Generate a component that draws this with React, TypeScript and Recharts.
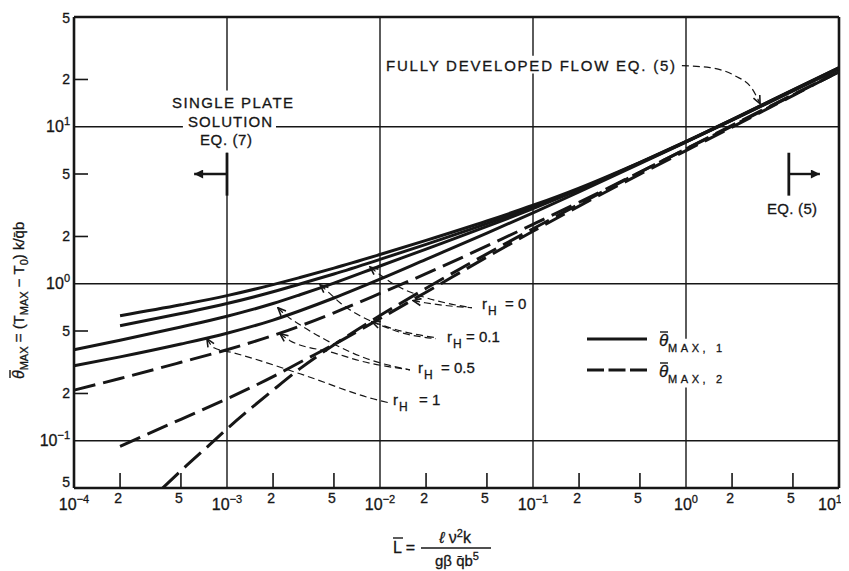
import { LineChart, Line, XAxis, YAxis, ReferenceLine } from 'recharts';

type Pt = { x: number; y: number };

const ink = '#161616';
const font = '"Liberation Sans", Arial, Helvetica, sans-serif';

const xTicks = [1e-4, 2e-4, 5e-4, 1e-3, 2e-3, 5e-3, 1e-2, 2e-2, 5e-2, 1e-1, 2e-1, 5e-1, 1, 2, 5, 10];
const xTickLabels = ['10^−4', '2', '5', '10^−3', '2', '5', '10^−2', '2', '5', '10^−1', '2', '5', '10^0', '2', '5', '10^1'];
const yTicks = [0.05, 0.1, 0.2, 0.5, 1, 2, 5, 10, 20, 50];
const yTickLabels = ['5', '10^−1', '2', '5', '10^0', '2', '5', '10^1', '2', '5'];

// θ̄MAX,1 (solid)
const theta1Rh0: Pt[] = [
  { x: 2e-4, y: 0.625 }, { x: 5e-4, y: 0.734 }, { x: 1e-3, y: 0.84 }, { x: 2e-3, y: 0.987 },
  { x: 3e-3, y: 1.096 }, { x: 5e-3, y: 1.257 }, { x: 1e-2, y: 1.535 }, { x: 2e-2, y: 1.888 },
  { x: 5e-2, y: 2.51 }, { x: 0.1, y: 3.16 }, { x: 0.2, y: 4.07 }, { x: 0.5, y: 5.94 },
  { x: 1, y: 8.06 }, { x: 2, y: 11.1 }, { x: 5, y: 17.2 }, { x: 10, y: 23.8 },
];
const theta1Rh01: Pt[] = [
  { x: 2e-4, y: 0.54 }, { x: 5e-4, y: 0.646 }, { x: 1e-3, y: 0.748 }, { x: 2e-3, y: 0.889 },
  { x: 3e-3, y: 0.997 }, { x: 5e-3, y: 1.154 }, { x: 1e-2, y: 1.429 }, { x: 2e-2, y: 1.782 },
  { x: 5e-2, y: 2.415 }, { x: 0.1, y: 3.08 }, { x: 0.2, y: 4.0 }, { x: 0.5, y: 5.89 },
  { x: 1, y: 8.04 }, { x: 2, y: 11.1 }, { x: 5, y: 17.1 }, { x: 10, y: 23.7 },
];
const theta1Rh05: Pt[] = [
  { x: 1e-4, y: 0.38 }, { x: 2e-4, y: 0.436 }, { x: 5e-4, y: 0.53 }, { x: 1e-3, y: 0.621 },
  { x: 2e-3, y: 0.748 }, { x: 3e-3, y: 0.851 }, { x: 5e-3, y: 1.01 }, { x: 1e-2, y: 1.297 },
  { x: 2e-2, y: 1.663 }, { x: 5e-2, y: 2.317 }, { x: 0.1, y: 3.01 }, { x: 0.2, y: 3.97 },
  { x: 0.5, y: 5.9 }, { x: 1, y: 8.0 }, { x: 2, y: 11.0 }, { x: 5, y: 16.9 }, { x: 10, y: 23.5 },
];
const theta1Rh1: Pt[] = [
  { x: 1e-4, y: 0.3 }, { x: 2e-4, y: 0.342 }, { x: 5e-4, y: 0.413 }, { x: 1e-3, y: 0.484 },
  { x: 2e-3, y: 0.587 }, { x: 3e-3, y: 0.673 }, { x: 5e-3, y: 0.811 }, { x: 1e-2, y: 1.069 },
  { x: 2e-2, y: 1.429 }, { x: 5e-2, y: 2.1 }, { x: 0.1, y: 2.83 }, { x: 0.2, y: 3.84 },
  { x: 0.5, y: 5.81 }, { x: 1, y: 7.98 }, { x: 2, y: 11.0 }, { x: 5, y: 17.0 }, { x: 10, y: 23.5 },
];

// θ̄MAX,2 (dashed)
const theta2Rh05: Pt[] = [
  { x: 1e-4, y: 0.21 }, { x: 2e-4, y: 0.249 }, { x: 5e-4, y: 0.316 }, { x: 1e-3, y: 0.38 },
  { x: 2e-3, y: 0.468 }, { x: 3e-3, y: 0.538 }, { x: 5e-3, y: 0.653 }, { x: 1e-2, y: 0.867 },
  { x: 2e-2, y: 1.159 }, { x: 5e-2, y: 1.74 }, { x: 0.1, y: 2.39 }, { x: 0.2, y: 3.3 },
  { x: 0.5, y: 5.14 }, { x: 1, y: 7.21 }, { x: 2, y: 10.1 }, { x: 5, y: 15.9 }, { x: 10, y: 22.4 },
];
const theta2Rh01: Pt[] = [
  { x: 2e-4, y: 0.092 }, { x: 5e-4, y: 0.137 }, { x: 1e-3, y: 0.185 }, { x: 2e-3, y: 0.256 },
  { x: 3e-3, y: 0.316 }, { x: 5e-3, y: 0.41 }, { x: 1e-2, y: 0.6 }, { x: 2e-2, y: 0.883 },
  { x: 5e-2, y: 1.479 }, { x: 0.1, y: 2.16 }, { x: 0.2, y: 3.12 }, { x: 0.5, y: 4.99 },
  { x: 1, y: 7.05 }, { x: 2, y: 9.95 }, { x: 5, y: 15.8 }, { x: 10, y: 22.4 },
];
const theta2Rh0: Pt[] = [
  { x: 3.8e-4, y: 0.05 }, { x: 5e-4, y: 0.0644 }, { x: 8e-4, y: 0.0975 }, { x: 1e-3, y: 0.119 },
  { x: 2e-3, y: 0.21 }, { x: 3e-3, y: 0.288 }, { x: 5e-3, y: 0.408 }, { x: 1e-2, y: 0.627 },
  { x: 2e-2, y: 0.935 }, { x: 5e-2, y: 1.55 }, { x: 0.1, y: 2.24 }, { x: 0.2, y: 3.21 },
  { x: 0.5, y: 5.13 }, { x: 1, y: 7.24 }, { x: 2, y: 10.2 }, { x: 5, y: 16.0 }, { x: 10, y: 22.4 },
];

// leader lines from the r_H labels, arrow tip first
const leaderRh0Solid: Pt[] = [
  { x: 8.61e-3, y: 1.28 }, { x: 1.0e-2, y: 1.14 }, { x: 1.253e-2, y: 0.985 },
  { x: 1.824e-2, y: 0.839 }, { x: 2.66e-2, y: 0.757 }, { x: 3.99e-2, y: 0.703 },
];
const leaderRh0Dashed: Pt[] = [
  { x: 1.645e-2, y: 0.78 }, { x: 1.968e-2, y: 0.757 }, { x: 2.78e-2, y: 0.724 }, { x: 3.99e-2, y: 0.703 },
];
const leaderRh01Solid: Pt[] = [
  { x: 4.06e-3, y: 0.985 }, { x: 4.57e-3, y: 0.889 }, { x: 5.48e-3, y: 0.757 },
  { x: 7.4e-3, y: 0.625 }, { x: 1.216e-2, y: 0.517 }, { x: 2.32e-2, y: 0.453 },
];
const leaderRh01Dashed: Pt[] = [
  { x: 8.87e-3, y: 0.573 }, { x: 1.03e-2, y: 0.54 }, { x: 1.455e-2, y: 0.481 }, { x: 2.32e-2, y: 0.447 },
];
const leaderRh05Solid: Pt[] = [
  { x: 2.15e-3, y: 0.703 }, { x: 2.36e-3, y: 0.644 }, { x: 3.0e-3, y: 0.548 },
  { x: 4.93e-3, y: 0.415 }, { x: 8.22e-3, y: 0.333 }, { x: 1.57e-2, y: 0.283 },
];
const leaderRh05Dashed: Pt[] = [
  { x: 2.22e-3, y: 0.481 }, { x: 2.58e-3, y: 0.434 }, { x: 4.93e-3, y: 0.364 },
  { x: 7.4e-3, y: 0.323 }, { x: 1.57e-2, y: 0.283 },
];
const leaderRh1: Pt[] = [
  { x: 7.39e-4, y: 0.447 }, { x: 8.22e-4, y: 0.391 }, { x: 1.094e-3, y: 0.364 },
  { x: 3.0e-3, y: 0.267 }, { x: 9.0e-3, y: 0.185 }, { x: 1.127e-2, y: 0.175 },
];
const fullyDevLeader: Pt[] = [
  { x: 0.94, y: 24.5 }, { x: 1.436, y: 23.8 }, { x: 2.09, y: 21.1 }, { x: 2.7, y: 17.5 }, { x: 3.05, y: 14.0 },
];

// ⊣ / ⊢ limit markers
const singlePlateArrow: Pt[] = [{ x: 1e-3, y: 5 }, { x: 6.1e-4, y: 5 }];
const fullyDevArrow: Pt[] = [{ x: 4.7, y: 5 }, { x: 7.5, y: 5 }];

function PowerText({ text, x, y, anchor, size, supSize }: any) {
  const [base, exp] = text.split('^');
  return (
    <text x={x} y={y} textAnchor={anchor} fontFamily={font} fontSize={size} fill={ink} stroke={ink} strokeWidth={0.3}>
      <tspan>{base}</tspan>
      {exp !== undefined && (
        <tspan dy={-size * 0.42} fontSize={supSize}>
          {exp}
        </tspan>
      )}
    </text>
  );
}

function XTick({ x, y, payload }: any) {
  const i = xTicks.indexOf(payload.value);
  const label = xTickLabels[i] ?? '';
  const decade = label.includes('^');
  // keep the last label inside the page
  const shift = i === xTicks.length - 1 ? -9 : 0;
  return (
    <g>
      {!decade && <line x1={x} x2={x} y1={y} y2={y - 15} stroke={ink} strokeWidth={1.6} />}
      {decade ? (
        <PowerText text={label} x={x + shift} y={y + 22} anchor="middle" size={16} supSize={11} />
      ) : (
        <PowerText text={label} x={x - 2} y={y + 15} anchor="middle" size={14} supSize={10} />
      )}
    </g>
  );
}

function YTick({ x, y, payload }: any) {
  const v = payload.value;
  const label = yTickLabels[yTicks.indexOf(v)] ?? '';
  const decade = label.includes('^');
  const edge = v === yTicks[0] || v === yTicks[yTicks.length - 1];
  const dy = v === yTicks[0] ? -1 : v === yTicks[yTicks.length - 1] ? 6 : 5;
  return (
    <g>
      {!edge && !decade && <line x1={x} x2={x + 14} y1={y} y2={y} stroke={ink} strokeWidth={1.6} />}
      <PowerText text={label} x={x - 4} y={y + dy} anchor="end" size={decade ? 16 : 14} supSize={11} />
    </g>
  );
}

function RhLabel({ x, y, eqX, value }: any) {
  return (
    <text fontFamily={font} fontSize={15} fill={ink} stroke={ink} strokeWidth={0.3}>
      <tspan x={x} y={y}>r</tspan>
      <tspan x={x + 6} y={y + 6} fontSize={12}>H</tspan>
      <tspan x={eqX} y={y}>= {value}</tspan>
    </text>
  );
}

function ThetaBar({ x, y, sub }: any) {
  return (
    <g fontFamily={font} fill={ink} stroke={ink} strokeWidth={0.3}>
      <line x1={x + 1} x2={x + 9} y1={y - 14} y2={y - 14} strokeWidth={1.4} />
      <text x={x} y={y} fontSize={17} fontStyle="italic">θ</text>
      <text x={x + 9} y={y + 6} fontSize={11} textLength={54} lengthAdjust="spacing">{sub}</text>
    </g>
  );
}

const solid = { type: 'monotone' as const, stroke: ink, strokeWidth: 3, dot: false, activeDot: false, isAnimationActive: false, legendType: 'none' as const };
const dashed = { ...solid, strokeDasharray: '22 8' };
const leader = { type: 'monotone' as const, stroke: ink, strokeWidth: 1.2, strokeDasharray: '7 4', dot: false, activeDot: false, isAnimationActive: false, legendType: 'none' as const, markerStart: 'url(#headOpen)' };
const grid = { stroke: ink, strokeWidth: 1.4 };
const frame = { stroke: ink, strokeWidth: 2.6 };

export default function App() {
  return (
    <div style={{ position: 'relative', width: 841, height: 563, background: '#fff' }}>
      <svg width={0} height={0} style={{ position: 'absolute' }}>
        <defs>
          <marker id="headOpen" viewBox="0 0 10 10" refX="9" refY="5" markerWidth="10" markerHeight="10"
            markerUnits="userSpaceOnUse" orient="auto-start-reverse">
            <path d="M1,1.5 L9,5 L1,8.5" fill="none" stroke={ink} strokeWidth="1.6" strokeDasharray="none" />
          </marker>
          <marker id="headSolid" viewBox="0 0 10 10" refX="10" refY="5" markerWidth="12" markerHeight="9"
            markerUnits="userSpaceOnUse" orient="auto">
            <path d="M0,0 L10,5 L0,10 Z" fill={ink} />
          </marker>
        </defs>
      </svg>

      <LineChart width={841} height={563} margin={{ top: 9, right: 10, bottom: 0, left: 0 }}>
        <XAxis dataKey="x" type="number" scale="log" domain={[1e-4, 10]} allowDataOverflow ticks={xTicks}
          interval={0} tick={<XTick />} tickLine={false} tickSize={0} tickMargin={0} height={83}
          axisLine={frame} />
        <YAxis dataKey="y" type="number" scale="log" domain={[0.05, 50]} allowDataOverflow ticks={yTicks}
          interval={0} tick={<YTick />} tickLine={false} tickSize={0} tickMargin={0} width={66}
          axisLine={frame} />

        {/* decade grid, broken where the notes sit */}
        <ReferenceLine segment={[{ x: 1e-3, y: 0.05 }, { x: 1e-3, y: 6.83 }]} {...grid} />
        <ReferenceLine segment={[{ x: 1e-3, y: 17 }, { x: 1e-3, y: 50 }]} {...grid} />
        <ReferenceLine x={1e-2} {...grid} />
        <ReferenceLine segment={[{ x: 0.1, y: 0.05 }, { x: 0.1, y: 21.8 }]} {...grid} />
        <ReferenceLine segment={[{ x: 0.1, y: 28.3 }, { x: 0.1, y: 50 }]} {...grid} />
        <ReferenceLine segment={[{ x: 1, y: 0.05 }, { x: 1, y: 0.218 }]} {...grid} />
        <ReferenceLine segment={[{ x: 1, y: 0.447 }, { x: 1, y: 50 }]} {...grid} />
        <ReferenceLine segment={[{ x: 1e-4, y: 10 }, { x: 5.15e-4, y: 10 }]} {...grid} />
        <ReferenceLine segment={[{ x: 2.09e-3, y: 10 }, { x: 10, y: 10 }]} {...grid} />
        <ReferenceLine y={1} {...grid} />
        <ReferenceLine y={0.1} {...grid} />
        <ReferenceLine y={50} {...frame} />
        <ReferenceLine x={10} {...frame} />

        {/* limit markers */}
        <ReferenceLine segment={[{ x: 1e-3, y: 3.64 }, { x: 1e-3, y: 6.83 }]} stroke={ink} strokeWidth={2.8} />
        <ReferenceLine segment={[{ x: 4.7, y: 3.64 }, { x: 4.7, y: 6.83 }]} stroke={ink} strokeWidth={2.8} />
        <Line data={singlePlateArrow} dataKey="y" type="linear" stroke={ink} strokeWidth={2.4} dot={false} activeDot={false}
          isAnimationActive={false} legendType="none" markerEnd="url(#headSolid)" />
        <Line data={fullyDevArrow} dataKey="y" type="linear" stroke={ink} strokeWidth={2.4} dot={false} activeDot={false}
          isAnimationActive={false} legendType="none" markerEnd="url(#headSolid)" />

        <Line data={theta1Rh0} dataKey="y" {...solid} />
        <Line data={theta1Rh01} dataKey="y" {...solid} />
        <Line data={theta1Rh05} dataKey="y" {...solid} />
        <Line data={theta1Rh1} dataKey="y" {...solid} />
        <Line data={theta2Rh05} dataKey="y" {...dashed} />
        <Line data={theta2Rh01} dataKey="y" {...dashed} />
        <Line data={theta2Rh0} dataKey="y" {...dashed} />

        <Line data={leaderRh0Solid} dataKey="y" {...leader} />
        <Line data={leaderRh0Dashed} dataKey="y" {...leader} />
        <Line data={leaderRh01Solid} dataKey="y" {...leader} />
        <Line data={leaderRh01Dashed} dataKey="y" {...leader} />
        <Line data={leaderRh05Solid} dataKey="y" {...leader} />
        <Line data={leaderRh05Dashed} dataKey="y" {...leader} />
        <Line data={leaderRh1} dataKey="y" {...leader} />
        <Line data={fullyDevLeader} dataKey="y" {...leader} markerStart={undefined} markerEnd="url(#headOpen)" />
      </LineChart>

      {/* notes, legend and axis titles */}
      <svg width={849} height={571} style={{ position: 'absolute', left: -8, top: -8, pointerEvents: 'none' }}>
        <g fontFamily={font} fontSize={15} fill={ink} stroke={ink} strokeWidth={0.3}>
          <text x={172} y={108} textLength={121} lengthAdjust="spacing">SINGLE PLATE</text>
          <text x={188} y={127} textLength={84} lengthAdjust="spacing">SOLUTION</text>
          <text x={200} y={145} textLength={52} lengthAdjust="spacing">EQ. (7)</text>
          <text x={386} y={71} textLength={289} lengthAdjust="spacing">FULLY DEVELOPED FLOW EQ. (5)</text>
          <text x={767} y={214} textLength={50} lengthAdjust="spacing">EQ. (5)</text>
        </g>

        <RhLabel x={482} y={309} eqX={505} value="0" />
        <RhLabel x={447} y={342} eqX={466} value="0.1" />
        <RhLabel x={418} y={373} eqX={441} value="0.5" />
        <RhLabel x={393} y={405} eqX={419} value="1" />

        <line x1={587} x2={647} y1={339} y2={339} stroke={ink} strokeWidth={3} />
        <line x1={587} x2={647} y1={370} y2={370} stroke={ink} strokeWidth={3} strokeDasharray="17 4.5" />
        <ThetaBar x={659} y={346} sub="MAX, 1" />
        <ThetaBar x={659} y={377} sub="MAX, 2" />

        <g transform="translate(24,274) rotate(-90)" fontFamily={font} fill={ink} stroke={ink} strokeWidth={0.3}>
          <line x1={-104} x2={-96} y1={-14} y2={-14} strokeWidth={1.4} />
          <text x={-105} y={0} fontSize={15}>
            <tspan fontStyle="italic" fontSize={16}>θ</tspan>
            <tspan fontSize={11} dy={4}>MAX</tspan>
            <tspan dy={-4}> = (T</tspan>
            <tspan fontSize={11} dy={4}>MAX</tspan>
            <tspan dy={-4}> − T</tspan>
            <tspan fontSize={11} dy={4}>0</tspan>
            <tspan dy={-4}>) k/q̄b</tspan>
          </text>
        </g>

        <g fontFamily={font} fill={ink} stroke={ink} strokeWidth={0.3}>
          <line x1={393} x2={403} y1={538} y2={538} strokeWidth={1.4} />
          <text x={393} y={553} fontSize={16}>L =</text>
          <text x={455} y={543} fontSize={16} textAnchor="middle">
            <tspan fontStyle="italic">ℓ</tspan>
            <tspan> ν</tspan>
            <tspan dy={-6} fontSize={11}>2</tspan>
            <tspan dy={6}>k</tspan>
          </text>
          <line x1={421} x2={491} y1={548} y2={548} strokeWidth={1.5} />
          <text x={457} y={566} fontSize={15} textAnchor="middle">
            <tspan>gβ q̄b</tspan>
            <tspan dy={-6} fontSize={11}>5</tspan>
          </text>
        </g>
      </svg>
    </div>
  );
}
